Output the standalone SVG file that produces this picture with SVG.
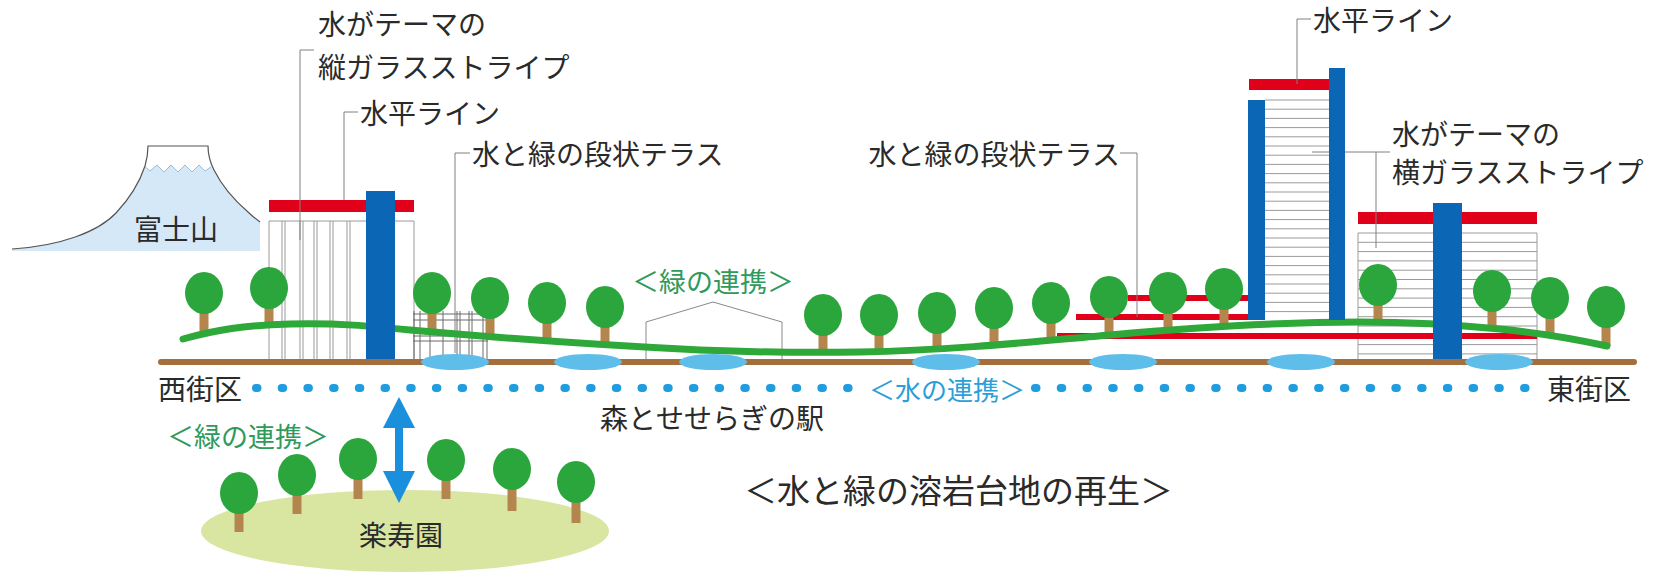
<svg xmlns="http://www.w3.org/2000/svg" width="1669" height="572" viewBox="0 0 1669 572">
  <style>
    .t { font-family: "Noto Sans CJK JP", "Noto Sans", sans-serif; font-size: 28px; fill: #2a2a2a; dominant-baseline: central; }
    .green { fill: #2f9a5a; font-size: 27px; }
    .blue { fill: #2a9fd8; font-size: 26px; }
    .lead { fill: none; stroke: #808080; stroke-width: 1; }
    .glass { fill: none; stroke: #9a9a9a; stroke-width: 1; }
    .grid { fill: none; stroke: #6a6a6a; stroke-width: 1; }
    .red { fill: #e10019; }
    .col { fill: #0b67b5; }
    .crown { fill: #2aa63c; }
    .trunk { fill: #b4864e; }
    .pond { fill: #5fbdea; }
  </style>

  <!-- Mount Fuji -->
  <g id="fuji">
    <path d="M12,249 C60,246 98,232 116,213 C132,196 141,178 145,166 C147,159 148,152 148,146 L208,146 C208,153 210,162 214,170 C222,186 234,200 248,212 C252,216 256,219 260,222 L260,251 L12,251 Z" fill="#d5e8f7"/>
    <path d="M148,146 L208,146 C208,153 209,160 211,167 L205,171 L199,165 L192,172 L185,165 L178,172 L171,165 L164,172 L157,165 L150,171 L145.5,167 C147,159 148,152 148,146 Z" fill="#ffffff"/>
    <path d="M145.5,167 L150,171 L157,165 L164,172 L171,165 L178,172 L185,165 L192,172 L199,165 L205,171 L211,167" fill="none" stroke="#9cbdd6" stroke-width="1"/>
    <path d="M12,249 C60,246 98,232 116,213 C132,196 141,178 145,166 C147,159 148,152 148,146 L208,146 C208,153 210,162 214,170 C222,186 234,200 248,212 C252,216 256,219 260,222" fill="none" stroke="#555" stroke-width="1.2"/>
    <text class="t" x="176" y="228" text-anchor="middle">富士山</text>
  </g>

  <!-- Rakujuen park -->
  <g id="rakujuen">
    <ellipse cx="405" cy="531" rx="204" ry="41" fill="#d9e6a2"/>
    <g>
      <rect class="trunk" x="234.5" y="493" width="9" height="39"/>
      <rect class="trunk" x="292.5" y="475" width="9" height="39"/>
      <rect class="trunk" x="353.5" y="459" width="9" height="40"/>
      <rect class="trunk" x="441.5" y="460" width="9" height="39"/>
      <rect class="trunk" x="507.5" y="469" width="9" height="42"/>
      <rect class="trunk" x="571.5" y="482" width="9" height="41"/>
      <ellipse class="crown" cx="239" cy="493" rx="19" ry="21"/>
      <ellipse class="crown" cx="297" cy="475" rx="19" ry="21"/>
      <ellipse class="crown" cx="358" cy="459" rx="19" ry="21"/>
      <ellipse class="crown" cx="446" cy="460" rx="19" ry="21"/>
      <ellipse class="crown" cx="512" cy="469" rx="19" ry="21"/>
      <ellipse class="crown" cx="576" cy="482" rx="19" ry="21"/>
    </g>
    <text class="t" x="401" y="534" text-anchor="middle">楽寿園</text>
  </g>

  <!-- West building: vertical glass stripes -->
  <g id="west-building">
    <path class="glass" d="M269,221 H414 M269,221 V362 M282,221 V362 M285,221 V362 M300,221 V362 M303,221 V362 M314,221 V362 M317,221 V362 M330,221 V362 M333,221 V362 M347,221 V362 M350,221 V362 M414,221 V362"/>
    <rect class="red" x="269" y="200" width="145" height="12"/>
  </g>

  <!-- West stepped terrace -->
  <g id="west-terrace">
    <path class="grid" d="M413,314 H488 M413,320 H488 M413,336 H488 M413,341 H488 M414,311 V362 M420,311 V362 M430,311 V362 M443,311 V362 M457,311 V362 M460,311 V362 M469,311 V362 M472,311 V362 M483,311 V362 M487,311 V362"/>
  </g>

  <!-- Station building outline -->
  <g id="station">
    <path d="M646,362 V322 L713,302 L782,322 V362" fill="none" stroke="#8a8a8a" stroke-width="1"/>
  </g>

  <!-- East tower: horizontal glass stripes -->
  <g id="east-tower">
    <path class="glass" d="M1265,100 H1329 M1265,109.2 H1329 M1265,118.4 H1329 M1265,127.6 H1329 M1265,136.8 H1329 M1265,146 H1329 M1265,155.2 H1329 M1265,164.4 H1329 M1265,173.6 H1329 M1265,182.8 H1329 M1265,192 H1329 M1265,201.2 H1329 M1265,210.4 H1329 M1265,219.6 H1329 M1265,228.8 H1329 M1265,238 H1329 M1265,247.2 H1329 M1265,256.4 H1329 M1265,265.6 H1329 M1265,274.8 H1329 M1265,284 H1329 M1265,293.2 H1329 M1265,302.4 H1329 M1265,311.6 H1329"/>
    <rect class="red" x="1249" y="79" width="96" height="11"/>
  </g>

  <!-- East building: horizontal glass stripes -->
  <g id="east-building">
    <path class="glass" d="M1358,233 V362 M1537,233 V362 M1358,233 H1537 M1358,242.3 H1537 M1358,251.6 H1537 M1358,260.9 H1537 M1358,270.2 H1537 M1358,279.5 H1537 M1358,288.8 H1537 M1358,298.1 H1537 M1358,307.4 H1537 M1358,316.7 H1537 M1358,326 H1537 M1358,335.3 H1537 M1358,344.6 H1537 M1358,353.9 H1537"/>
    <rect class="red" x="1358" y="212" width="179" height="12"/>
  </g>

  <!-- East stepped terrace bars -->
  <g id="east-terrace">
    <rect class="red" x="1128" y="295" width="120" height="6"/>
    <rect class="red" x="1076" y="314" width="172" height="6"/>
    <rect class="red" x="1057" y="333" width="480" height="6"/>
  </g>

  <!-- Leader lines -->
  <g id="connectors">
    <path class="lead" d="M314,50 H300 V240"/>
    <path class="lead" d="M358,112 H344 V200"/>
    <path class="lead" d="M470,153 H455 V353"/>
    <path class="lead" d="M1120,153 H1137 V317"/>
    <path class="lead" d="M1311,19 H1297 V84"/>
    <path class="lead" d="M1312,152 H1390 M1376,152 V248"/>
  </g>

  <!-- Street trees -->
  <g id="trees">
    <rect class="trunk" x="199.5" y="293" width="9" height="42"/>
    <rect class="trunk" x="264.5" y="288" width="9" height="40"/>
    <rect class="trunk" x="427.5" y="293" width="9" height="41"/>
    <rect class="trunk" x="485.5" y="298" width="9" height="41"/>
    <rect class="trunk" x="542.5" y="303" width="9" height="40"/>
    <rect class="trunk" x="600.5" y="307" width="9" height="39"/>
    <rect class="trunk" x="818.5" y="315" width="9" height="39"/>
    <rect class="trunk" x="874.5" y="315" width="9" height="39"/>
    <rect class="trunk" x="932.5" y="313" width="9" height="39"/>
    <rect class="trunk" x="989.5" y="308" width="9" height="40"/>
    <rect class="trunk" x="1046.5" y="303" width="9" height="39"/>
    <rect class="trunk" x="1104.5" y="297" width="9" height="40"/>
    <rect class="trunk" x="1163.5" y="293" width="9" height="40"/>
    <rect class="trunk" x="1219.5" y="289" width="9" height="40"/>
    <rect class="trunk" x="1373.5" y="285" width="9" height="39"/>
    <rect class="trunk" x="1487.5" y="291" width="9" height="39"/>
    <rect class="trunk" x="1545.5" y="298" width="9" height="38"/>
    <rect class="trunk" x="1601.5" y="307" width="9" height="39"/>
    <ellipse class="crown" cx="204" cy="293" rx="19" ry="21"/>
    <ellipse class="crown" cx="269" cy="288" rx="19" ry="21"/>
    <ellipse class="crown" cx="432" cy="293" rx="19" ry="21"/>
    <ellipse class="crown" cx="490" cy="298" rx="19" ry="21"/>
    <ellipse class="crown" cx="547" cy="303" rx="19" ry="21"/>
    <ellipse class="crown" cx="605" cy="307" rx="19" ry="21"/>
    <ellipse class="crown" cx="823" cy="315" rx="19" ry="21"/>
    <ellipse class="crown" cx="879" cy="315" rx="19" ry="21"/>
    <ellipse class="crown" cx="937" cy="313" rx="19" ry="21"/>
    <ellipse class="crown" cx="994" cy="308" rx="19" ry="21"/>
    <ellipse class="crown" cx="1051" cy="303" rx="19" ry="21"/>
    <ellipse class="crown" cx="1109" cy="297" rx="19" ry="21"/>
    <ellipse class="crown" cx="1168" cy="293" rx="19" ry="21"/>
    <ellipse class="crown" cx="1224" cy="289" rx="19" ry="21"/>
    <ellipse class="crown" cx="1378" cy="285" rx="19" ry="21"/>
    <ellipse class="crown" cx="1492" cy="291" rx="19" ry="21"/>
    <ellipse class="crown" cx="1550" cy="298" rx="19" ry="21"/>
    <ellipse class="crown" cx="1606" cy="307" rx="19" ry="21"/>
  </g>

  <!-- Green corridor -->
  <path id="green-link" d="M183,339 C215,330 245,325 290,324 C340,323 370,326 410,330 C500,338 620,346 700,350 C750,352 800,353 860,352 C960,350 1050,340 1110,335 C1200,327 1280,322 1360,322 C1420,322 1460,325 1500,329 C1550,334 1580,340 1607,346" fill="none" stroke="#2fa83a" stroke-width="7" stroke-linecap="round"/>

  <!-- Blue columns -->
  <g id="columns">
    <rect class="col" x="366" y="191" width="29" height="171"/>
    <rect class="col" x="1248" y="100" width="17" height="220"/>
    <rect class="col" x="1329" y="68" width="16" height="252"/>
    <rect class="col" x="1433" y="203" width="29" height="159"/>
  </g>

  <!-- Ground and ponds -->
  <g id="ground">
    <line x1="161" y1="362" x2="1634" y2="362" stroke="#a46f3c" stroke-width="6" stroke-linecap="round"/>
    <ellipse class="pond" cx="455" cy="362" rx="34" ry="8"/>
    <ellipse class="pond" cx="588" cy="362" rx="34" ry="8"/>
    <ellipse class="pond" cx="713" cy="362" rx="34" ry="8"/>
    <ellipse class="pond" cx="946" cy="362" rx="34" ry="8"/>
    <ellipse class="pond" cx="1123" cy="362" rx="34" ry="8"/>
    <ellipse class="pond" cx="1301" cy="362" rx="34" ry="8"/>
    <ellipse class="pond" cx="1499" cy="362" rx="34" ry="8"/>
  </g>

  <!-- Water link dots -->
  <g id="water-link" stroke="#1f9de0" stroke-width="8" stroke-linecap="round">
    <line x1="256" y1="388" x2="849" y2="388" stroke-dasharray="1.5 24.2"/>
    <line x1="1035" y1="388" x2="1527" y2="388" stroke-dasharray="1.5 24.24"/>
  </g>

  <!-- Link arrow to the park -->
  <g id="park-arrow" fill="#1a90dc">
    <rect x="395" y="424" width="8" height="52"/>
    <path d="M399,397 L415,428 L383,428 Z"/>
    <path d="M399,503 L415,471 L383,471 Z"/>
  </g>

  <!-- Labels -->
  <g id="labels">
    <text class="t" x="318" y="23">水がテーマの</text>
    <text class="t" x="318" y="66">縦ガラスストライプ</text>
    <text class="t" x="360" y="112">水平ライン</text>
    <text class="t" x="472" y="153">水と緑の段状テラス</text>
    <text class="t" x="1120" y="153" text-anchor="end">水と緑の段状テラス</text>
    <text class="t" x="1313" y="19">水平ライン</text>
    <text class="t" x="1392" y="133">水がテーマの</text>
    <text class="t" x="1392" y="171">横ガラスストライプ</text>
    <text class="t green" x="713" y="280" text-anchor="middle">＜緑の連携＞</text>
    <text class="t" x="242" y="388" text-anchor="end">西街区</text>
    <text class="t blue" x="947" y="388" text-anchor="middle">＜水の連携＞</text>
    <text class="t" x="1547" y="388">東街区</text>
    <text class="t" x="600" y="417">森とせせらぎの駅</text>
    <text class="t green" x="167" y="435">＜緑の連携＞</text>
    <text class="t" x="744" y="489" style="font-size:33px">＜水と緑の溶岩台地の再生＞</text>
  </g>
</svg>
